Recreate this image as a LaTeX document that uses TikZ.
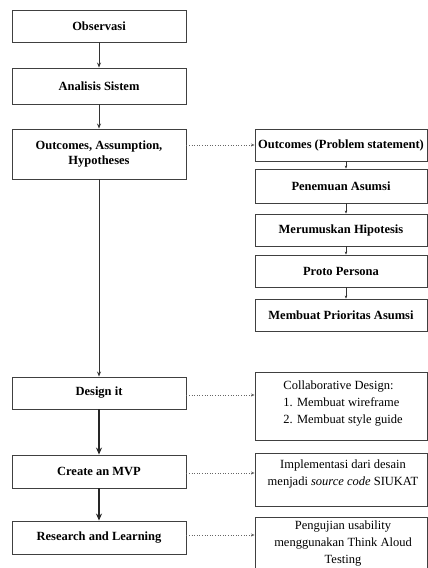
\documentclass[tikz,border=0pt]{standalone}
\usepackage{fontspec}
\setmainfont{Liberation Serif}
\usetikzlibrary{arrows.meta}
\begin{document}
\begin{tikzpicture}[x=1pt,y=-1pt,
  box/.style={draw=black!75, line width=0.9pt, minimum width=174pt, inner sep=0pt, align=center,
    font=\fontsize{12.5}{14.5}\selectfont\bfseries},
  rbox/.style={draw=black!75, line width=0.9pt, minimum width=172pt, inner sep=0pt, align=center,
    font=\fontsize{12.5}{14.5}\selectfont\bfseries},
  txt/.style={inner sep=0pt, align=left, font=\fontsize{12.5}{17}\selectfont},
  ctxt/.style={inner sep=0pt, align=center, font=\fontsize{12.5}{17}\selectfont},
  thin arrow/.style={draw=black!80, line width=0.8pt, -{Stealth[length=5pt,width=4pt]}},
  thick arrow/.style={draw=black!85, line width=1.4pt, -{Stealth[length=7pt,width=6pt]}},
  small arrow/.style={draw=black!80, line width=0.6pt, -{Stealth[length=3pt,width=2.5pt]}},
  dot arrow/.style={draw=black!60, line width=0.6pt, dotted, -{Stealth[length=3.5pt,width=3pt]}}
]
\path[use as bounding box, clip] (0,0) rectangle (428,568);

% left column
\node[box, minimum height=32pt] (obs) at (99,26) {Observasi};
\node[box, minimum height=36pt] (ana) at (99,86) {Analisis Sistem};
\node[box, minimum height=50pt] (oah) at (99,154) {Outcomes, Assumption,\\Hypotheses};
\node[box, minimum height=32pt] (des) at (99,393) {Design it};
\node[box, minimum height=33pt] (mvp) at (99,471.5) {Create an MVP};
\node[box, minimum height=33pt] (res) at (99,537.5) {Research and Learning};

% right chain
\node[rbox, minimum height=32pt] (r1) at (341,145) {Outcomes (Problem statement)};
\node[rbox, minimum height=34pt] (r2) at (341,186) {Penemuan Asumsi};
\node[rbox, minimum height=32pt] (r3) at (341,230) {Merumuskan Hipotesis};
\node[rbox, minimum height=32pt] (r4) at (341,271) {Proto Persona};
\node[rbox, minimum height=32pt] (r5) at (341,315) {Membuat Prioritas Asumsi};

% right bottom boxes
\node[rbox, minimum height=68pt] (r6) at (341,406) {};
\node[txt] (r6t) at (343,403.5) {Collaborative Design:\\1. Membuat wireframe\\2. Membuat style guide};
\node[rbox, minimum height=53pt] (r7) at (341,479.5) {};
\node[ctxt] (r7t) at (343,473.5) {Implementasi dari desain\\menjadi \textit{source code} SIUKAT};
\node[rbox, minimum height=64pt] (r8) at (341,549) {};
\node[ctxt] (r8t) at (343,544) {Pengujian usability\\menggunakan Think Aloud\\Testing};

% left arrows
\draw[thin arrow] (obs) -- (ana);
\draw[thin arrow] (ana) -- (oah);
\draw[thin arrow] (oah) -- (des);
\draw[thick arrow] (des) -- (mvp);
\draw[thick arrow] (mvp) -- (res);

% right chain arrows
\foreach \a/\b in {r1/r2,r2/r3,r3/r4,r4/r5}
  \draw[small arrow] ([xshift=5pt]\a.south) -- ([xshift=5pt]\b.north);

% dotted arrows (horizontal)
\draw[dot arrow] (r1.west -| oah.east) -- (r1.west);
\draw[dot arrow] ([yshift=-2pt]des.east) -- ([yshift=-2pt]des.east -| r6.west);
\draw[dot arrow] ([yshift=-1.5pt]mvp.east) -- ([yshift=-1.5pt]mvp.east -| r7.west);
\draw[dot arrow] ([yshift=2.5pt]res.east) -- ([yshift=2.5pt]res.east -| r8.west);
\end{tikzpicture}
\end{document}
